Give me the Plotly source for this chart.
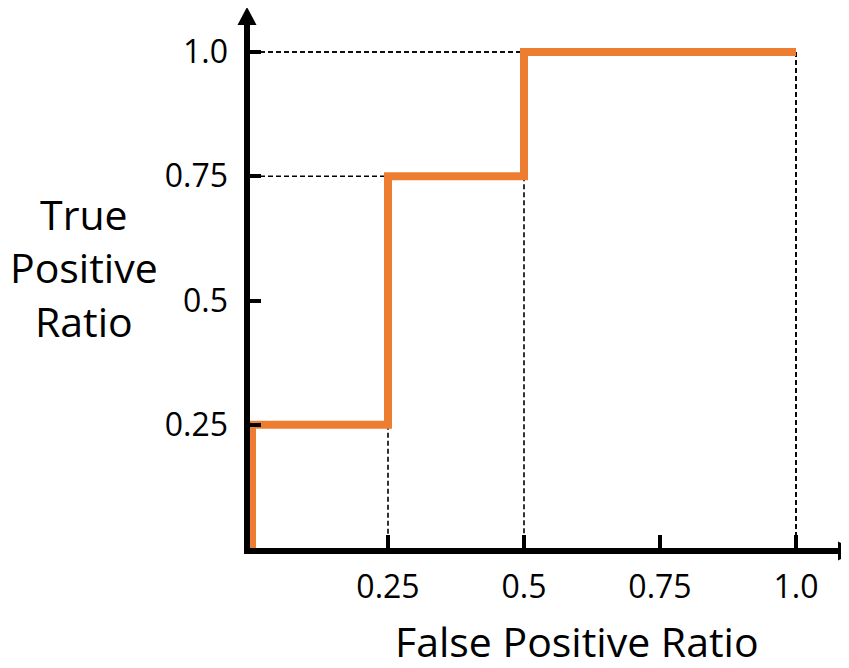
import plotly.graph_objects as go

# ---- data ----
fpr = [0.0, 0.0, 0.25, 0.5, 1.0]
tpr = [0.0, 0.25, 0.75, 1.0, 1.0]
x_tick_vals = [0.25, 0.5, 0.75, 1.0]
x_tick_text = ["0.25", "0.5", "0.75", "1.0"]
y_tick_vals = [0.25, 0.5, 0.75, 1.0]
y_tick_text = ["0.25", "0.5", "0.75", "1.0"]
x_title = "False Positive Ratio"
y_title = "True<br>Positive<br>Ratio"

ORANGE = "#ED7D31"
FONT = "Open Sans"

# page body has an 8px margin; figure is laid out in page pixels minus that offset
OFF = 8
W, H = 849 - OFF, 668 - OFF
PL, PR, PT, PB = 247, 849, 13, 551          # plot area in page pixels
L, R, T, B = PL - OFF, 0, PT - OFF, H - (PB - OFF)

# page pixel positions of data 0 and 1
X0, X1 = 252, 796
Y0, Y1 = 549, 52
xs = X1 - X0
ys = Y0 - Y1

fig = go.Figure()

dash_line = dict(color="black", width=1.6, dash="5px,3px")
# dashed guide lines from step corners
for i in range(2, len(fpr)):
    fig.add_trace(go.Scatter(x=[0, fpr[i]], y=[tpr[i], tpr[i]], mode="lines",
                             line=dash_line, hoverinfo="skip", showlegend=False))
for i in range(1, len(fpr)):
    xe = fpr[i + 1] if i + 1 < len(fpr) else fpr[i]
    fig.add_trace(go.Scatter(x=[xe, xe], y=[tpr[i], 0], mode="lines",
                             line=dash_line, hoverinfo="skip", showlegend=False))

# ROC step curve
fig.add_trace(go.Scatter(x=fpr, y=tpr, mode="lines", line_shape="hv",
                         line=dict(color=ORANGE, width=8),
                         hoverinfo="skip", showlegend=False))


def px_x(p):
    return (p - PL) / (PR - PL)


def px_y(p):
    return (PB - p) / (PB - PT)


shapes = [
    dict(type="line", xref="paper", yref="paper", x0=0, x1=0,
         y0=px_y(554), y1=px_y(22), line=dict(color="black", width=6)),
    dict(type="line", xref="paper", yref="paper", x0=px_x(244), x1=px_x(840),
         y0=0, y1=0, line=dict(color="black", width=6)),
    dict(type="path", xref="paper", yref="paper", xsizemode="pixel", ysizemode="pixel",
         xanchor=0, yanchor=px_y(7), path="M 0 0 L -9.5 -18 L 9.5 -18 Z",
         fillcolor="black", line=dict(color="black", width=0)),
    dict(type="path", xref="paper", yref="paper", xsizemode="pixel", ysizemode="pixel",
         xanchor=px_x(856), yanchor=0, path="M 0 0 L -18 9.5 L -18 -9.5 Z",
         fillcolor="black", line=dict(color="black", width=0)),
]

annotations = [
    dict(text=x_title, xref="paper", yref="paper", x=px_x(577), y=px_y(641),
         xanchor="center", yanchor="middle", showarrow=False,
         font=dict(family=FONT, size=41, color="black")),
    dict(text=y_title, xref="paper", yref="paper", x=px_x(84), y=px_y(267),
         xanchor="center", yanchor="middle", showarrow=False,
         font=dict(family=FONT, size=41, color="black")),
]

fig.update_layout(
    width=W, height=H,
    margin=dict(l=L, r=R, t=T, b=B, pad=0, autoexpand=False),
    paper_bgcolor="white", plot_bgcolor="white",
    font=dict(family=FONT, color="black"),
    shapes=shapes, annotations=annotations,
    xaxis=dict(range=[(PL - X0) / xs, (PR - X0) / xs], showgrid=False, zeroline=False,
               showline=False, ticks="inside", ticklen=16, tickwidth=4, tickcolor="black",
               tickvals=x_tick_vals, ticktext=x_tick_text,
               tickfont=dict(family=FONT, size=32, color="black"),
               ticklabelstandoff=14, fixedrange=True),
    yaxis=dict(range=[(Y0 - PB) / ys, (Y0 - PT) / ys], showgrid=False, zeroline=False,
               showline=False, ticks="inside", ticklen=14, tickwidth=4, tickcolor="black",
               tickvals=y_tick_vals, ticktext=y_tick_text,
               tickfont=dict(family=FONT, size=32, color="black"),
               ticklabelstandoff=18, fixedrange=True),
)

fig.write_html("out.html")
